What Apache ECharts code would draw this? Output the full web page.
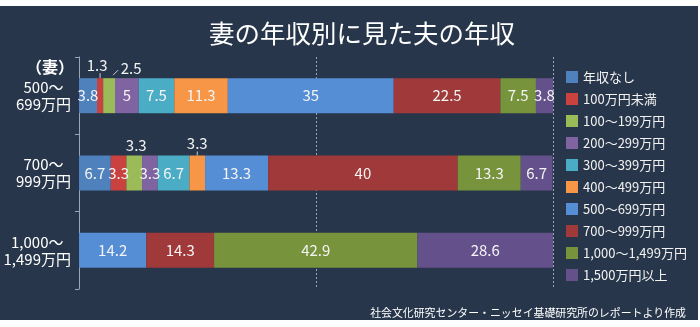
<!DOCTYPE html>
<html><head><meta charset="utf-8">
<script src="https://cdn.jsdelivr.net/npm/echarts@6/dist/echarts.min.js"></script>
<style>
html,body{margin:0;padding:0;background:#fff;width:700px;height:327px;overflow:hidden}
#chart{position:absolute;left:0;top:6px;width:698px;height:314px}
</style></head><body><div id="chart"></div>
<script>
// Wife's income rows (top to bottom)
const wifeIncome = ['500～\n699万円', '700～\n999万円', '1,000～\n1,499万円'];
// Husband's income bands (stack order, left to right)
const husbandBands = ['年収なし','100万円未満','100～199万円','200～299万円','300～399万円','400～499万円','500～699万円','700～999万円','1,000～1,499万円','1,500万円以上'];
// Share (%) of husbands in each band, one value per wife-income row
const shareNone       = [3.8, 6.7, 0];
const shareUnder100   = [1.3, 3.3, 0];
const share100to199   = [2.5, 3.3, 0];
const share200to299   = [5, 3.3, 0];
const share300to399   = [7.5, 6.7, 0];
const share400to499   = [11.3, 3.3, 0];
const share500to699   = [35, 13.3, 14.2];
const share700to999   = [22.5, 40, 14.3];
const share1000to1499 = [7.5, 13.3, 42.9];
const share1500plus   = [3.8, 6.7, 28.6];

const shares = [shareNone, shareUnder100, share100to199, share200to299, share300to399,
  share400to499, share500to699, share700to999, share1000to1499, share1500plus];
const colors = ['#4f81bd','#c9423f','#9bbb59','#8064a2','#4bacc6','#f79646',
  '#558ed5','#a0393a','#77933c','#64508a'];

const FONT = '"Noto Sans CJK JP", "Noto Sans", sans-serif';

// labels that sit above the bar because the segment is too narrow
const aboveLabels = {
  '1-0': { offset: [-3, -1] },
  '2-0': { offset: [22, 2] },
  '2-1': { offset: [2, 1] },
  '5-1': { offset: [0, -1] }
};

const series = shares.map((vals, si) => ({
  name: husbandBands[si],
  type: 'bar',
  stack: 'total',
  barWidth: 35,
  itemStyle: { color: colors[si] },
  label: {
    show: true,
    position: 'inside',
    color: '#f4f4f4',
    fontSize: 15,
    fontFamily: FONT,
    formatter: p => (p.value > 0 ? p.value : '')
  },
  data: vals.map((v, ri) => {
    const a = aboveLabels[si + '-' + ri];
    if (!a) return v;
    return { value: v, label: { position: 'top', distance: 4, offset: a.offset } };
  })
}));

const chart = echarts.init(document.getElementById('chart'));
chart.setOption({
  backgroundColor: '#27364a',
  animation: false,
  title: [
    { text: '妻の年収別に見た夫の年収', left: 204, top: 10,
      textStyle: { color: '#ffffff', fontSize: 25.5, fontWeight: 'normal', fontFamily: FONT } },
    { text: '（妻）', left: 21, top: 48,
      textStyle: { color: '#ffffff', fontSize: 16, fontWeight: 'bold', fontFamily: FONT } },
    { text: '社会文化研究センター・ニッセイ基礎研究所のレポートより作成', right: 7, top: 296,
      textStyle: { color: '#ffffff', fontSize: 10.9, fontWeight: 'normal', fontFamily: FONT } }
  ],
  legend: {
    orient: 'vertical',
    left: 561, top: 59,
    itemWidth: 12, itemHeight: 12, itemGap: 8,
    icon: 'rect',
    data: husbandBands,
    textStyle: { color: '#f2f2f2', fontSize: 13, lineHeight: 14, fontFamily: FONT }
  },
  grid: { left: 79, top: 51, width: 474, height: 232, containLabel: false, outerBoundsMode: 'none' },
  xAxis: {
    type: 'value', min: 0, max: 100, interval: 50,
    axisLabel: { show: false }, axisTick: { show: false }, axisLine: { show: false },
    splitLine: { show: true, lineStyle: { color: '#9aa5b5', type: [2, 2], width: 1 } }
  },
  yAxis: {
    type: 'category', inverse: true,
    data: wifeIncome,
    axisLine: { show: true, lineStyle: { color: '#9aa5b5' } },
    axisTick: { show: true, length: 4, lineStyle: { color: '#9aa5b5' } },
    axisLabel: {
      align: 'right', margin: 8,
      formatter: v => v.split('\n').map(s => '{c|' + s + '}').join('\n'),
      rich: { c: { align: 'center', color: '#ffffff', fontSize: 15, lineHeight: 17, fontFamily: FONT } }
    }
  },
  series
});

// short leader lines from the raised labels down to their segments
function leader(si, ri, dx1, dy1, dx2, dy2) {
  let start = 0;
  for (let k = 0; k < si; k++) start += shares[k][ri];
  const mid = start + shares[si][ri] / 2;
  const p = chart.convertToPixel({ gridIndex: 0 }, [mid, ri]);
  const top = p[1] - 17.5;
  return { type: 'line', silent: true,
    shape: { x1: p[0] + dx1, y1: top + dy1, x2: p[0] + dx2, y2: top + dy2 },
    style: { stroke: '#c7cdd6', lineWidth: 1 } };
}
chart.setOption({ graphic: [
  leader(1, 0, 0, 0, 0, -5),
  leader(2, 0, 4, -3, 9, -8),
  leader(5, 1, 0, 0, 0, -4)
] });
</script></body></html>
